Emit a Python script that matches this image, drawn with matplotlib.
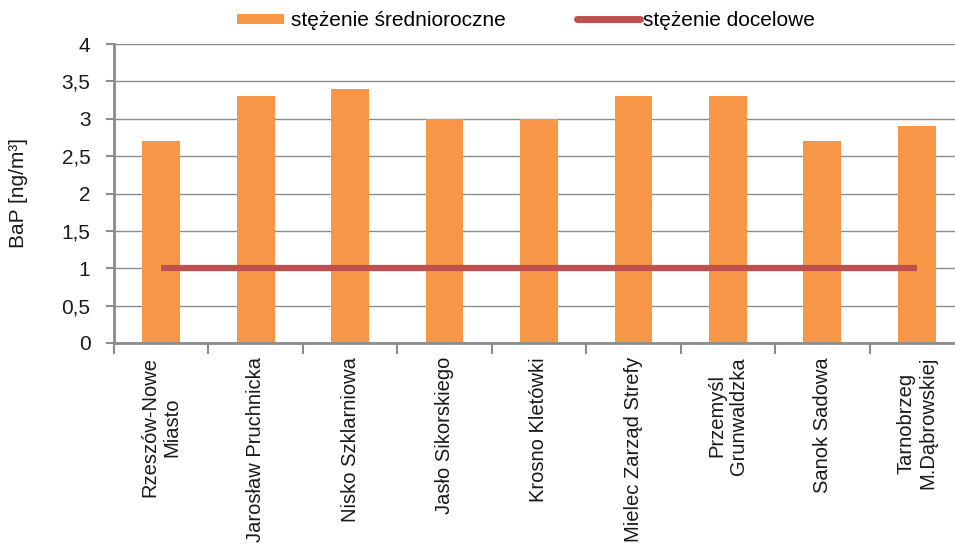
import matplotlib
matplotlib.use("Agg")
import matplotlib.pyplot as plt
from matplotlib.patches import Patch
from matplotlib.lines import Line2D

plt.rcParams['font.family'] = ['Liberation Sans', 'DejaVu Sans']

stations = ["Rzeszów-Nowe\nMiasto", "Jarosław Pruchnicka", "Nisko Szklarniowa",
            "Jasło Sikorskiego", "Krosno Kletówki", "Mielec Zarząd Strefy",
            "Przemyśl\nGrunwaldzka", "Sanok Sadowa", "Tarnobrzeg\nM.Dąbrowskiej"]
mean_values = [2.7, 3.3, 3.4, 3.0, 3.0, 3.3, 3.3, 2.7, 2.9]
target_values = [1, 1, 1, 1, 1, 1, 1, 1, 1]
yticks = [0, 0.5, 1, 1.5, 2, 2.5, 3, 3.5, 4]
ytick_labels = ["0", "0,5", "1", "1,5", "2", "2,5", "3", "3,5", "4"]

bar_color = "#F79646"
line_color = "#C0504D"
grid_color = "#8C8C8C"
text_color = "#1a1a1a"
fs = 15

fig = plt.figure(figsize=(9.55, 5.45), dpi=100)
ax = fig.add_axes([114/955, 1-343/545, 850/955, 299/545])

x = list(range(len(stations)))
ax.bar(x, mean_values, width=0.4, color=bar_color, zorder=2)
ax.plot(x, target_values, color=line_color, linewidth=4.5, solid_capstyle='butt', zorder=3)

ax.set_xlim(-0.5, len(stations) - 0.5)
ax.set_ylim(0, 4)
ax.set_yticks(yticks)
ax.set_yticklabels(ytick_labels, fontsize=fs, color=text_color)
ax.yaxis.grid(True, color=grid_color, linewidth=1.0, zorder=0)
ax.set_axisbelow(True)

ax.set_xticks([i - 0.5 for i in range(len(stations) + 1)])
ax.set_xticklabels([])
ax.set_xticks(x, minor=True)
ax.set_xticklabels(stations, minor=True, rotation=90, ha='center', va='top',
                   multialignment='center', fontsize=14.5, color=text_color)
ax.tick_params(axis='x', which='minor', length=0, pad=10)
ax.tick_params(axis='x', which='major', length=8, width=1.5, color=grid_color, direction='out')
ax.tick_params(axis='y', length=6, width=1.5, color=grid_color, direction='out', pad=11)

for s in ['top', 'right']:
    ax.spines[s].set_visible(False)
for s in ['left', 'bottom']:
    ax.spines[s].set_color(grid_color)
    ax.spines[s].set_linewidth(2)

ax.set_ylabel("BaP [ng/m³]", fontsize=fs, color=text_color)
ax.yaxis.set_label_coords(-86/850, 0.5)

leg_y = 1 - 21/545
fig.legend([Patch(facecolor=bar_color, edgecolor='none')], ["stężenie średnioroczne"],
           loc='center left', bbox_to_anchor=(237/955, leg_y), frameon=False,
           fontsize=fs, handlelength=2.25, handleheight=0.35, handletextpad=0.35,
           borderpad=0, borderaxespad=0)
fig.legend([Line2D([0], [0], color=line_color, linewidth=5, solid_capstyle='round')],
           ["stężenie docelowe"],
           loc='center left', bbox_to_anchor=(577/955, leg_y), frameon=False,
           fontsize=fs, handlelength=3.0, handletextpad=0.15,
           borderpad=0, borderaxespad=0)

fig.savefig("out.png", dpi=100)
